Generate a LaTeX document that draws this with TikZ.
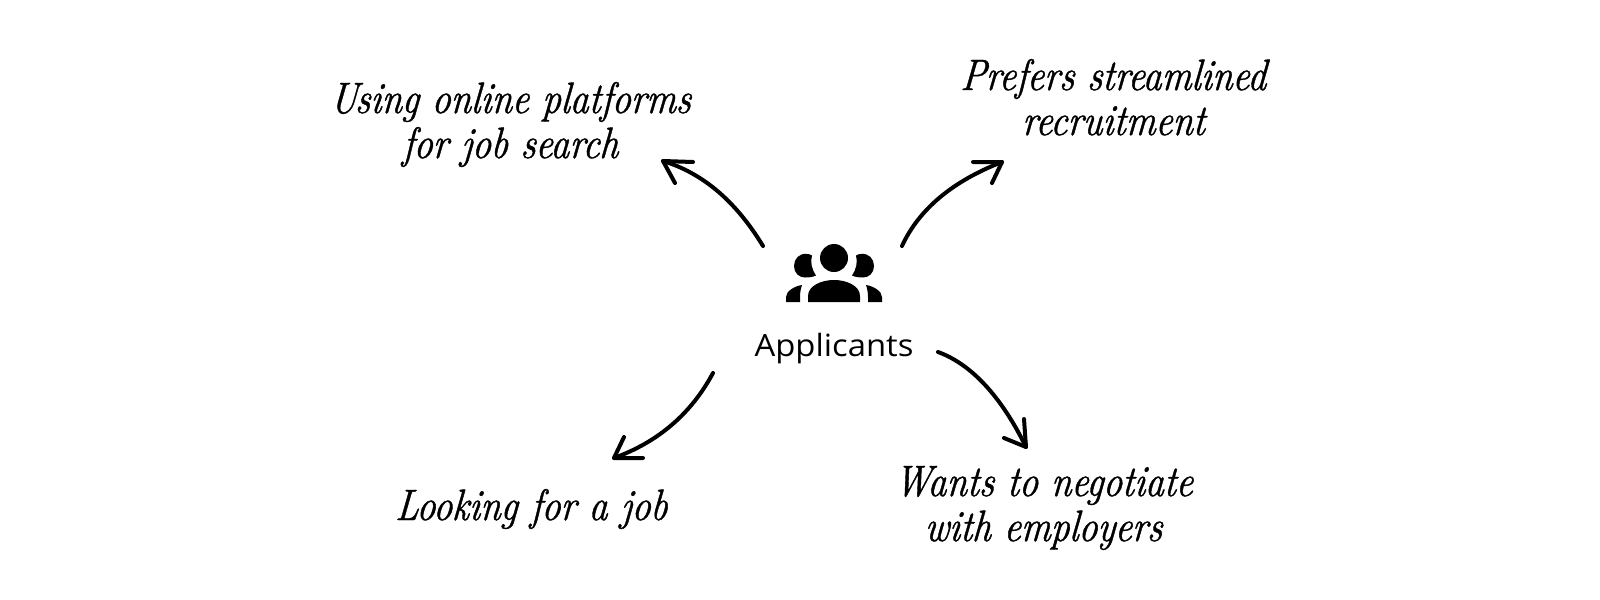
\documentclass[tikz,border=0pt]{standalone}
\usepackage{fontspec}
\setmainfont{Open Sans}
\newfontfamily\handfont[Path=,Extension=.otf,UprightFont=*,BoldFont=*,FakeStretch=0.83,FakeBold=0.9,FakeSlant=0.08]{lmroman10-italic}
\tikzset{
  x=0.75pt,y=-0.75pt,
  hand/.style={font=\handfont\fontsize{33}{33.75}\selectfont,align=center,inner sep=0pt,anchor=base,text=black},
  label/.style={font=\fontsize{23}{26}\selectfont,inner sep=0pt,anchor=base},
  curve/.style={line width=3pt,line cap=round,line join=round},
}
\newcommand{\crescent}{(807,254) .. controls (799,253) and (794,259) .. (794,266) .. controls (794,273) and (799,277.5) .. (805,277.5) .. controls (809,277.5) and (813,277) .. (816,275.5) .. controls (812,270) and (810,262) .. (812,255.5) .. controls (810.5,254.5) and (809,254) .. (807,254) -- cycle}
\begin{document}
\begin{tikzpicture}
\useasboundingbox (0,0) rectangle (1600,600);
\fill[white] (0,0) rectangle (1600,600);
% icon
\fill \crescent;
\begin{scope}[xshift=1251pt,x=-0.75pt]
\fill \crescent;
\end{scope}
\fill (834,258) circle[radius=14];
\fill (808,302) -- (808,296) .. controls (808,286) and (821,280) .. (834,280) .. controls (847,280) and (860,286) .. (860,296) -- (860,302) -- cycle;
\fill (786,302) -- (786,297) .. controls (786,291) and (795,286) .. (802,285) .. controls (801,288) and (800,292) .. (800,297) -- (800,302) -- cycle;
\fill (882,302) -- (882,297) .. controls (882,291) and (873,286) .. (866,285) .. controls (867,288) and (868,292) .. (868,297) -- (868,302) -- cycle;
\node[label] (app) at (834,356) {\addfontfeature{FakeStretch=1.07}Applicants};
\node[hand] (t1) at (510,158) {Using online platforms\\for job search};
\node[hand] (t2) at (1113,135) {Prefers streamlined\\recruitment};
\node[hand] (t3) at (531,520) {Looking for a job};
\node[hand] (t4) at (1043,541) {Wants to negotiate\\with employers};
\coordinate (a1s) at (763,246);\coordinate (a1e) at (663,161);
\coordinate (a1b) at (693,162);\coordinate (a1c) at (675,183);
\coordinate (a2s) at (902,246);\coordinate (a2e) at (1002,162);
\coordinate (a2b) at (973,162);\coordinate (a2c) at (992,183);
\coordinate (a3s) at (713,373);\coordinate (a3e) at (614,458);
\coordinate (a3b) at (643,458);\coordinate (a3c) at (624,437);
\coordinate (a4s) at (938,352);\coordinate (a4e) at (1026,447);
\coordinate (a4b) at (1004,438);\coordinate (a4c) at (1024,419);
\draw[curve] (a1s) .. controls (735,200) and (702,173) .. (a1e);
\draw[curve] (a1b) -- (a1e) -- (a1c);
\draw[curve] (a2s) .. controls (919,209) and (953,181) .. (a2e);
\draw[curve] (a2b) -- (a2e) -- (a2c);
\draw[curve] (a3s) .. controls (691,414) and (658,442) .. (a3e);
\draw[curve] (a3b) -- (a3e) -- (a3c);
\draw[curve] (a4s) .. controls (971,364) and (1001,396) .. (a4e);
\draw[curve] (a4b) -- (a4e) -- (a4c);
\end{tikzpicture}
\end{document}
